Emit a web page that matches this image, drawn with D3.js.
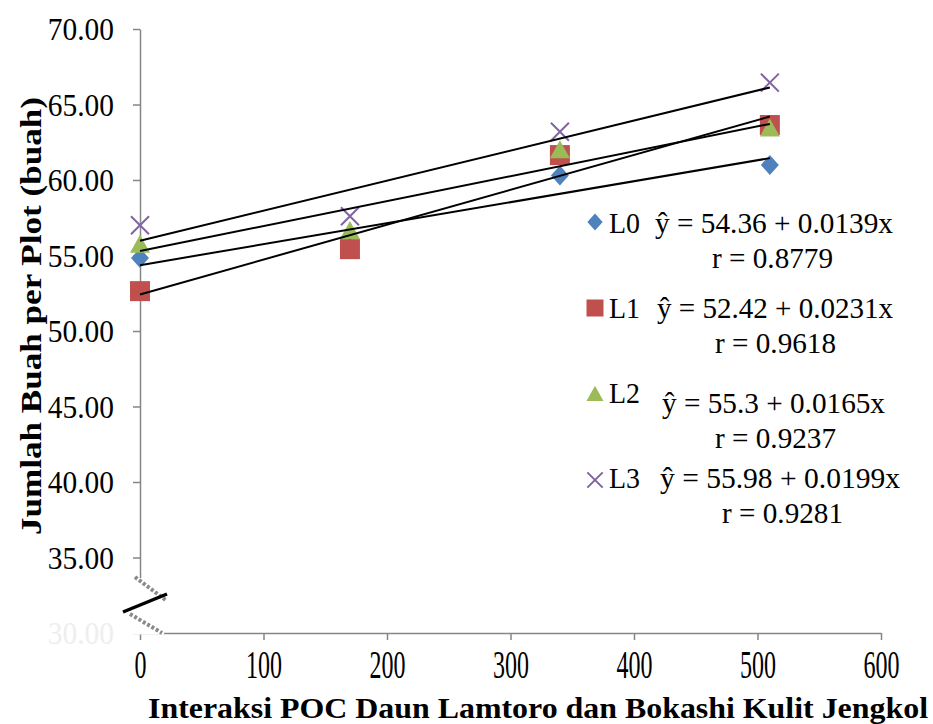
<!DOCTYPE html>
<html lang="en">
<head>
    <meta charset="utf-8">
    <style>
        body { margin: 0; background: #fff; }
        svg { display: block; }
        .axis path, .axis line { stroke: #868686; stroke-width: 1.5; }
    </style>
</head>
<body>
    <svg width="933" height="724"></svg>
    <script src="https://cdn.jsdelivr.net/npm/d3@7"></script>
    <script>
        const svg = d3.select("svg");
        const serif = "'Liberation Serif', 'Times New Roman', serif";

        /************************************************************************************
        * Data
        ************************************************************************************/
        const doses = [0, 170, 340, 510];
        const seriesNames = ["L0", "L1", "L2", "L3"];
        const valuesL0 = [54.83, 55.49, 60.30, 61.00];
        const valuesL1 = [52.64, 55.42, 61.65, 63.64];
        const valuesL2 = [55.65, 56.55, 61.90, 63.35];
        const valuesL3 = [57.00, 57.60, 63.20, 66.45];
        const intercepts = [54.36, 52.42, 55.3, 55.98];
        const slopes = [0.0139, 0.0231, 0.0165, 0.0199];
        const equations = ["ŷ = 54.36 + 0.0139x", "ŷ = 52.42 + 0.0231x", "ŷ = 55.3 + 0.0165x", "ŷ = 55.98 + 0.0199x"];
        const rLabels = ["r = 0.8779", "r = 0.9618", "r = 0.9237", "r = 0.9281"];
        const xTicks = [0, 100, 200, 300, 400, 500, 600];
        const yTicks = [30, 35, 40, 45, 50, 55, 60, 65, 70];

        const allValues = [valuesL0, valuesL1, valuesL2, valuesL3];
        const colors = ["#4F81BD", "#C0504D", "#9BBB59", "#8064A2"];

        const xScale = d3.scaleLinear().domain([0, 600]).range([140, 881]);
        const yScale = d3.scaleLinear().domain([30, 70]).range([633, 29]);

        /************************************************************************************
        * Axes
        ************************************************************************************/
        const yAxis = svg.append("g")
            .attr("class", "axis")
            .attr("transform", `translate(${xScale(0)},0)`)
            .call(d3.axisLeft(yScale).tickValues(yTicks).tickFormat(d3.format(".2f")).tickSize(7).tickSizeOuter(0).tickPadding(19));
        yAxis.attr("font-family", null).attr("font-size", null);
        yAxis.selectAll("text")
            .attr("x", 0)
            .attr("transform", "translate(-26,0) scale(0.92,1)")
            .attr("font-family", serif)
            .attr("font-size", 32)
            .attr("dy", "0.34em")
            .attr("fill", d => d === 30 ? "#eeeeee" : "#000");

        const xAxis = svg.append("g")
            .attr("class", "axis")
            .attr("transform", `translate(0,${yScale(30)})`)
            .call(d3.axisBottom(xScale).tickValues(xTicks).tickSize(7).tickSizeOuter(0).tickPadding(0));
        xAxis.attr("font-family", null).attr("font-size", null);
        xAxis.selectAll("text")
            .attr("y", 45)
            .attr("dy", null)
            .attr("transform", "scale(0.6,1)")
            .attr("font-family", serif)
            .attr("font-size", 40)
            .attr("fill", "#000");

        // Axis break: hide the corner and draw the break marks
        const breakG = svg.append("g");
        breakG.append("rect")
            .attr("x", 128).attr("y", 578).attr("width", 36).attr("height", 56.5)
            .attr("fill", "#fff");
        breakG.append("line")
            .attr("x1", 135).attr("y1", 577).attr("x2", 167).attr("y2", 601)
            .attr("stroke", "#8a8a8a").attr("stroke-width", 4).attr("stroke-dasharray", "3,2");
        breakG.append("line")
            .attr("x1", 130).attr("y1", 614).attr("x2", 162).attr("y2", 633)
            .attr("stroke", "#8a8a8a").attr("stroke-width", 4).attr("stroke-dasharray", "3,2");
        breakG.append("line")
            .attr("x1", 123).attr("y1", 612).attr("x2", 167).attr("y2", 594)
            .attr("stroke", "#000").attr("stroke-width", 3.5);

        /************************************************************************************
        * Markers
        ************************************************************************************/
        function drawMarker(g, i, cx, cy, s) {
            const h = s / 2;
            if (i === 0) {
                g.append("path").attr("d", `M${cx},${cy - h}L${cx + h * 0.9},${cy}L${cx},${cy + h}L${cx - h * 0.9},${cy}Z`).attr("fill", colors[0]);
            } else if (i === 1) {
                g.append("rect").attr("x", cx - h).attr("y", cy - h).attr("width", s).attr("height", s).attr("fill", colors[1]);
            } else if (i === 2) {
                g.append("path").attr("d", `M${cx},${cy - h * 1.1}L${cx + h},${cy + h * 0.7}L${cx - h},${cy + h * 0.7}Z`).attr("fill", colors[2]);
            } else {
                const k = h * 0.9;
                g.append("path").attr("d", `M${cx - k},${cy - k}L${cx + k},${cy + k}M${cx + k},${cy - k}L${cx - k},${cy + k}`)
                    .attr("stroke", colors[3]).attr("stroke-width", 2).attr("fill", "none");
            }
        }

        const markers = svg.append("g");
        allValues.forEach((vals, i) => {
            vals.forEach((v, j) => drawMarker(markers, i, xScale(doses[j]), yScale(v), 20));
        });

        /************************************************************************************
        * Trend lines
        ************************************************************************************/
        const trendLine = d3.line().x(d => xScale(d[0])).y(d => yScale(d[1]));
        const trends = svg.append("g");
        intercepts.forEach((a, i) => {
            const pts = [0, 510].map(x => [x, a + slopes[i] * x]);
            trends.append("path")
                .datum(pts)
                .attr("d", trendLine)
                .attr("fill", "none")
                .attr("stroke", "#000")
                .attr("stroke-width", 2);
        });

        /************************************************************************************
        * Legend
        ************************************************************************************/
        const markerY = [222, 308, 395, 480];
        const nameY = [233, 318, 403, 488];
        const eqX = [655, 657, 662, 660];
        const eqY = [233, 318, 413, 488];
        const eqW = [238, 236, 223, 240];
        const rX = [712, 715, 715, 722];
        const rY = [268, 353, 448, 523];
        const legend = svg.append("g")
            .style("font-family", serif)
            .style("font-size", "29px");
        seriesNames.forEach((name, i) => {
            drawMarker(legend, i, 595, markerY[i], 17);
            legend.append("text").attr("x", 609).attr("y", nameY[i])
                .attr("textLength", 31).attr("lengthAdjust", "spacingAndGlyphs").text(name);
            legend.append("text").attr("x", eqX[i]).attr("y", eqY[i])
                .attr("textLength", eqW[i]).attr("lengthAdjust", "spacingAndGlyphs").text(equations[i]);
            legend.append("text").attr("x", rX[i]).attr("y", rY[i])
                .attr("textLength", 121).attr("lengthAdjust", "spacingAndGlyphs").text(rLabels[i]);
        });

        /************************************************************************************
        * Axis titles
        ************************************************************************************/
        svg.append("text")
            .attr("transform", "translate(41,316) rotate(-90) scale(1.17,1)")
            .attr("text-anchor", "middle")
            .style("font-family", serif)
            .style("font-size", "30px")
            .style("font-weight", "bold")
            .text("Jumlah Buah per Plot (buah)");

        svg.append("text")
            .attr("x", 148)
            .attr("y", 718)
            .attr("textLength", 780)
            .attr("lengthAdjust", "spacingAndGlyphs")
            .style("font-family", serif)
            .style("font-size", "30px")
            .style("font-weight", "bold")
            .text("Interaksi POC Daun Lamtoro dan Bokashi Kulit Jengkol");
    </script>
</body>
</html>
